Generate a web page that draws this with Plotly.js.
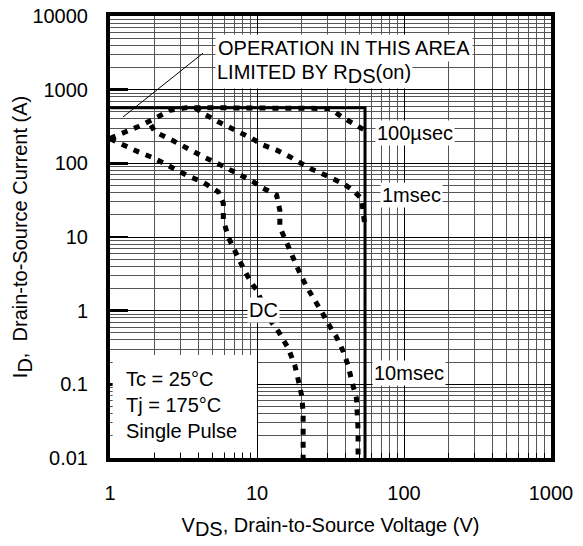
<!DOCTYPE html>
<html>
<head>
<meta charset="utf-8">
<script src="https://cdn.plot.ly/plotly-3.0.1.min.js"></script>
<style>html,body{margin:0;padding:0;background:#fff;}#chart{width:583px;height:546px;}</style>
</head>
<body>
<div id="chart"></div>
<script>
// Axis tick labels
var xTickVals = [1, 10, 100, 1000];
var xTickText = ['1', '10', '100', '1000'];
var yTickVals = [0.01, 0.1, 1, 10, 100, 1000, 10000];
var yTickText = ['0.01', '0.1', '1', '10', '100', '1000', '10000'];

// Limit boundary (RDS(on)/current limit and BVdss limit)
var limitX = [1, 54.3, 54.3];
var limitY = [570, 570, 0.01];

// 100 usec
var us100X = [1.0, 1.23, 1.56, 2.02, 2.56, 3.32, 6, 12, 20, 28, 31.4, 37.6, 45.2, 52.8, 54.3];
var us100Y = [218, 255, 316, 406, 527, 570, 570, 570, 570, 570, 556, 428, 347, 297, 280];

// 1 msec
var ms1X = [3.8, 4.31, 5.46, 6.71, 8.08, 9.2, 11.0, 13.6, 16.7, 19.6, 23, 27.5, 32.2, 38.6, 45.2, 51.5, 52.8, 54.3];
var ms1Y = [570, 475, 366, 297, 255, 218, 177, 151, 123, 102, 85, 73, 62, 53, 43, 33, 21, 14];

// 10 msec
var ms10X = [1.9, 2.02, 2.63, 3.32, 4.31, 5.6, 6.71, 8.08, 9.46, 11.0, 13.6, 14.3, 14.3, 15.9, 17.7, 19.6, 21.8, 24.9, 27.5, 31.3, 34.7, 38.6, 41.7, 44, 47.5, 48.7, 48.7];
var ms10Y = [330, 268, 207, 159, 123, 96, 81, 66, 56, 46, 37, 23, 13.7, 8.2, 4.9, 3.2, 2.1, 1.39, 0.97, 0.61, 0.44, 0.28, 0.18, 0.114, 0.064, 0.024, 0.01];

// DC
var dcX = [1.0, 1.23, 1.56, 2.02, 2.63, 3.32, 4.31, 5.46, 5.9, 5.9, 6.37, 7.08, 8.08, 9.2, 9.96, 12.3, 14, 16.3, 18.1, 19.1, 20.2, 20.6, 20.6];
var dcY = [215, 177, 143, 116, 87, 69, 55, 41, 28.6, 17, 10, 6.3, 3.75, 2.35, 1.9, 0.74, 0.52, 0.31, 0.18, 0.114, 0.068, 0.04, 0.01];

function minorVals(lo, hi) {
  var out = [];
  for (var e = lo; e < hi; e++) {
    for (var m = 2; m <= 9; m++) out.push(m * Math.pow(10, e));
  }
  return out;
}
var L = Math.log10;
var FONT = 'Liberation Sans, Arial, Helvetica, sans-serif';
function bigSub(s) { return '<sub><span style="font-size:20px">' + s + '</span></sub>'; }

var dashStyle = {color: '#000', width: 5, dash: '6px,7px'};
var traces = [
  {x: limitX, y: limitY, mode: 'lines', line: {color: '#000', width: 3}, hoverinfo: 'skip'},
  {x: us100X, y: us100Y, mode: 'lines', line: dashStyle},
  {x: ms1X, y: ms1Y, mode: 'lines', line: dashStyle},
  {x: ms10X, y: ms10Y, mode: 'lines', line: dashStyle},
  {x: dcX, y: dcY, mode: 'lines', line: dashStyle}
];

var layout = {
  width: 583, height: 546,
  margin: {l: 110, r: 32, t: 16, b: 88},
  paper_bgcolor: '#fff', plot_bgcolor: '#fff',
  showlegend: false,
  font: {family: FONT, size: 20, color: '#000'},
  xaxis: {
    type: 'log', range: [0, 3],
    tickmode: 'array', tickvals: xTickVals, ticktext: xTickText,
    ticks: 'inside', ticklen: 5, tickwidth: 1, tickcolor: '#000',
    ticklabelstandoff: 14,
    showgrid: true, gridcolor: '#000', gridwidth: 1,
    minor: {tickmode: 'array', tickvals: minorVals(0, 3), showgrid: true, gridcolor: '#555', gridwidth: 1, ticks: 'inside', ticklen: 5, tickcolor: '#000'},
    showline: true, linewidth: 4, linecolor: '#000', mirror: true,
    zeroline: false,
    title: {text: 'V' + bigSub('DS') + ', Drain-to-Source Voltage (V)', font: {size: 20, family: FONT}, standoff: 16}
  },
  yaxis: {
    type: 'log', range: [-2, 4],
    tickmode: 'array', tickvals: yTickVals, ticktext: yTickText,
    ticks: 'inside', ticklen: 18, tickwidth: 2.5, tickcolor: '#000',
    ticklabelstandoff: 14,
    showgrid: true, gridcolor: '#000', gridwidth: 1,
    minor: {tickmode: 'array', tickvals: minorVals(-2, 4), showgrid: true, gridcolor: '#555', gridwidth: 1, ticks: ''},
    showline: true, linewidth: 4, linecolor: '#000', mirror: true,
    zeroline: false,
    title: {text: 'I' + bigSub('D') + ',  Drain-to-Source Current (A)', font: {size: 20, family: FONT}, standoff: 0}
  },
  shapes: [
    {type: 'rect', xref: 'paper', yref: 'paper', x0: 0.006, x1: 0.333, y0: 0.013, y1: 0.233, fillcolor: '#fff', line: {width: 0}, layer: 'above'},
    {type: 'line', xref: 'paper', yref: 'paper', x0: 0.0295, y0: 0.7715, x1: 0.211, y1: 0.916, line: {color: '#000', width: 1}}
  ],
  annotations: [
    {x: L(5.18), y: L(3656), xref: 'x', yref: 'y', text: 'OPERATION IN THIS AREA', showarrow: false, xanchor: 'left', yanchor: 'middle', bgcolor: '#fff', borderpad: 2, font: {size: 20}},
    {x: L(5.18), y: L(1650), xref: 'x', yref: 'y', text: 'LIMITED BY R' + bigSub('DS') + '(on)', showarrow: false, xanchor: 'left', yanchor: 'middle', bgcolor: '#fff', borderpad: 1, font: {size: 20}},
    {x: L(63.5), y: L(257), xref: 'x', yref: 'y', text: '100µsec', showarrow: false, xanchor: 'left', yanchor: 'middle', bgcolor: '#fff', borderpad: 1, font: {size: 20}},
    {x: L(68.6), y: L(37), xref: 'x', yref: 'y', text: '1msec', showarrow: false, xanchor: 'left', yanchor: 'middle', bgcolor: '#fff', borderpad: 1, font: {size: 20}},
    {x: L(60.6), y: L(0.142), xref: 'x', yref: 'y', text: '10msec', showarrow: false, xanchor: 'left', yanchor: 'middle', bgcolor: '#fff', borderpad: 1, font: {size: 20}},
    {x: L(11), y: L(1.02), xref: 'x', yref: 'y', text: 'DC', showarrow: false, xanchor: 'center', yanchor: 'middle', bgcolor: '#fff', borderpad: 1, font: {size: 20}},
    {x: 0.032, y: 0.12, xref: 'paper', yref: 'paper', text: 'Tc = 25°C<br>Tj = 175°C<br>Single Pulse', showarrow: false, xanchor: 'left', yanchor: 'middle', align: 'left', font: {size: 20}}
  ]
};

Plotly.newPlot('chart', traces, layout, {displayModeBar: false, staticPlot: true});
</script>
</body>
</html>
